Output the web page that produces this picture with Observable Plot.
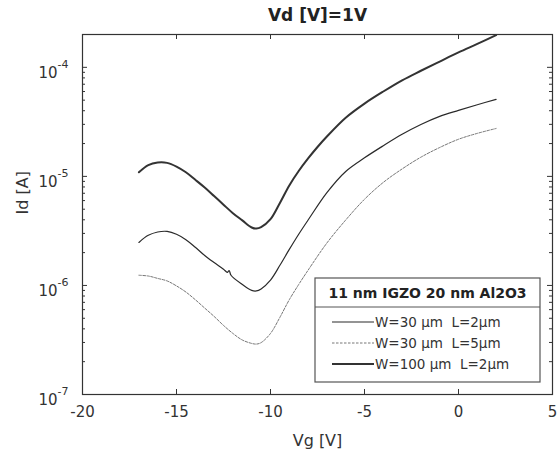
<!DOCTYPE html>
<html>
<head>
<meta charset="utf-8">
<script src="https://cdn.jsdelivr.net/npm/d3@7"></script>
<script src="https://cdn.jsdelivr.net/npm/@observablehq/plot@0.6"></script>
<style>
  body { margin: 0; background: #fff; }
</style>
</head>
<body>
<div id="chart"></div>
<script>
// ---- data ----
const vgW100L2 = [-17,-16.5,-16,-15.5,-15,-14.5,-14,-13.5,-13,-12.5,-12,-11.5,-11,-10.75,-10.5,-10,-9.5,-9,-8.5,-8,-7.5,-7,-6,-5,-4,-3,-2,-1,0,1,2];
const idW100L2 = [1.09e-5,1.27e-5,1.34e-5,1.33e-5,1.23e-5,1.09e-5,9.3e-6,7.9e-6,6.6e-6,5.5e-6,4.6e-6,3.95e-6,3.4e-6,3.32e-6,3.42e-6,4.05e-6,5.71e-6,8.26e-6,1.12e-5,1.46e-5,1.86e-5,2.32e-5,3.45e-5,4.65e-5,6.0e-5,7.6e-5,9.3e-5,1.13e-4,1.37e-4,1.64e-4,1.97e-4];

const vgW30L2 = [-17,-16.5,-16,-15.5,-15,-14.5,-14,-13.5,-13,-12.5,-12.3,-12.2,-12.1,-11.5,-11,-10.75,-10.5,-10,-9.5,-9,-8.5,-8,-7,-6,-5,-4,-3,-2,-1,0,1,2];
const idW30L2 = [2.48e-6,2.88e-6,3.09e-6,3.13e-6,2.95e-6,2.63e-6,2.24e-6,1.88e-6,1.62e-6,1.41e-6,1.32e-6,1.37e-6,1.24e-6,1.02e-6,9.0e-7,8.9e-7,9.3e-7,1.12e-6,1.53e-6,2.14e-6,2.95e-6,3.98e-6,7.1e-6,1.11e-5,1.48e-5,1.91e-5,2.43e-5,2.99e-5,3.55e-5,4.03e-5,4.54e-5,5.08e-5];

const vgW30L5 = [-17,-16.5,-16,-15.5,-15,-14.5,-14,-13.5,-13,-12.5,-12,-11.5,-11,-10.75,-10.5,-10,-9.5,-9,-8.5,-8,-7,-6,-5,-4,-3,-2,-1,0,1,2];
const idW30L5 = [1.24e-6,1.22e-6,1.16e-6,1.10e-6,9.9e-7,8.7e-7,7.4e-7,6.2e-7,5.2e-7,4.3e-7,3.63e-7,3.16e-7,2.94e-7,2.9e-7,2.99e-7,3.63e-7,5.1e-7,7.4e-7,1.02e-6,1.38e-6,2.45e-6,3.98e-6,6.17e-6,8.81e-6,1.17e-5,1.5e-5,1.84e-5,2.19e-5,2.48e-5,2.75e-5];

const xTicks = [-20,-15,-10,-5,0,5];
const yMajor = [1e-7,1e-6,1e-5,1e-4];
const yExp = ["-7","-6","-5","-4"];
const yMinor = [];
for (const e of [-7,-6,-5,-4]) for (let k=2;k<=9;k++) { const v = k*Math.pow(10,e); if (v <= 2e-4) yMinor.push(v); }

const titleText = "Vd [V]=1V";
const xLabel = "Vg [V]";
const yLabel = "Id [A]";
const legendTitle = "11 nm IGZO 20 nm Al2O3";
const legendLabels = ["W=30 μm  L=2μm", "W=30 μm  L=5μm", "W=100 μm  L=2μm"];

// ---- build ----
const W = 557, H = 457;
const mL = 82, mR = 5, mT = 34, mB = 63;
const fW = W - mL - mR, fH = H - mT - mB;
const ink = "#333";
const font = "DejaVu Sans";

const mk = (vg, id) => vg.map((v,i) => ({vg: v, id: id[i]}));
const sA = mk(vgW100L2, idW100L2);
const sB = mk(vgW30L2, idW30L2);
const sC = mk(vgW30L5, idW30L5);

const svg = Plot.plot({
  width: W, height: H,
  marginLeft: mL, marginRight: mR, marginTop: mT, marginBottom: mB,
  style: {fontFamily: font, background: "#fff", color: ink},
  x: {domain: [-20, 5], axis: null},
  y: {type: "log", domain: [1e-7, 2e-4], axis: null},
  marks: [
    // curves
    Plot.line(sC, {x: "vg", y: "id", curve: "catmull-rom", stroke: "#777", strokeWidth: 1, strokeDasharray: "2.5,1.5"}),
    Plot.line(sB, {x: "vg", y: "id", curve: "catmull-rom", stroke: "#2a2a2a", strokeWidth: 1.2}),
    Plot.line(sA, {x: "vg", y: "id", curve: "catmull-rom", stroke: "#333", strokeWidth: 2}),
    // frame
    Plot.frame({stroke: ink, strokeWidth: 1.2}),
    // x ticks (inward, bottom & top)
    Plot.ruleX(xTicks, {x: d => d, insetTop: fH - 5, stroke: ink}),
    Plot.ruleX(xTicks, {x: d => d, insetBottom: fH - 5, stroke: ink}),
    // y ticks (inward, left & right)
    Plot.ruleY(yMajor, {y: d => d, insetRight: fW - 5, stroke: ink}),
    Plot.ruleY(yMajor, {y: d => d, insetLeft: fW - 5, stroke: ink}),
    Plot.ruleY(yMinor, {y: d => d, insetRight: fW - 3, stroke: ink}),
    Plot.ruleY(yMinor, {y: d => d, insetLeft: fW - 3, stroke: ink}),
    // x tick labels
    Plot.text(xTicks, {x: d => d, frameAnchor: "bottom", lineAnchor: "middle", dy: 18, text: d => String(d), fontSize: 15, fill: ink}),
    // y tick labels 10^n
    Plot.text(yMajor, {y: d => d, frameAnchor: "left", lineAnchor: "middle", dx: -25, dy: 6, textAnchor: "end", text: () => "10", fontSize: 15, fill: ink}),
    Plot.text(yMajor, {y: d => d, frameAnchor: "left", lineAnchor: "middle", dx: -25, dy: -3, textAnchor: "start", text: (d,i) => yExp[i], fontSize: 11, fill: ink}),
    // title and axis labels
    Plot.text([titleText], {frameAnchor: "top", lineAnchor: "middle", dy: -19, fontSize: 17, fontWeight: "bold", fill: "#222"}),
    Plot.text([xLabel], {frameAnchor: "bottom", lineAnchor: "middle", dy: 46, fontSize: 16, fill: ink}),
    Plot.text([yLabel], {frameAnchor: "left", lineAnchor: "middle", dx: -60, rotate: -90, fontSize: 16, fill: ink})
  ]
});

document.getElementById("chart").appendChild(svg);

// ---- legend ----
const g = d3.select(svg).append("g").attr("font-family", font);
const bx = 315, by = 278, bw = 225, bh = 104;
g.append("rect").attr("x", bx).attr("y", by).attr("width", bw).attr("height", bh)
  .attr("fill", "#fff").attr("stroke", "#555").attr("stroke-width", 1.2);
g.append("line").attr("x1", bx).attr("x2", bx + bw).attr("y1", 307).attr("y2", 307)
  .attr("stroke", "#555").attr("stroke-width", 1);
g.append("text").attr("x", bx + bw / 2).attr("y", 293).attr("text-anchor", "middle")
  .attr("dominant-baseline", "central").attr("font-weight", "bold").attr("font-size", 14)
  .attr("fill", "#222").text(legendTitle);
const styles = [
  {stroke: "#2a2a2a", w: 1.2, dash: null},
  {stroke: "#777", w: 1, dash: "2.5,1.5"},
  {stroke: "#333", w: 2, dash: null}
];
const rowsY = [322, 343, 364];
legendLabels.forEach((lab, i) => {
  const l = g.append("line").attr("x1", 332).attr("x2", 374).attr("y1", rowsY[i]).attr("y2", rowsY[i])
    .attr("stroke", styles[i].stroke).attr("stroke-width", styles[i].w);
  if (styles[i].dash) l.attr("stroke-dasharray", styles[i].dash);
  g.append("text").attr("x", 375).attr("y", rowsY[i]).attr("text-anchor", "start")
    .attr("dominant-baseline", "central")
    .attr("font-size", 13.5).attr("fill", ink).text(lab);
});
</script>
</body>
</html>
